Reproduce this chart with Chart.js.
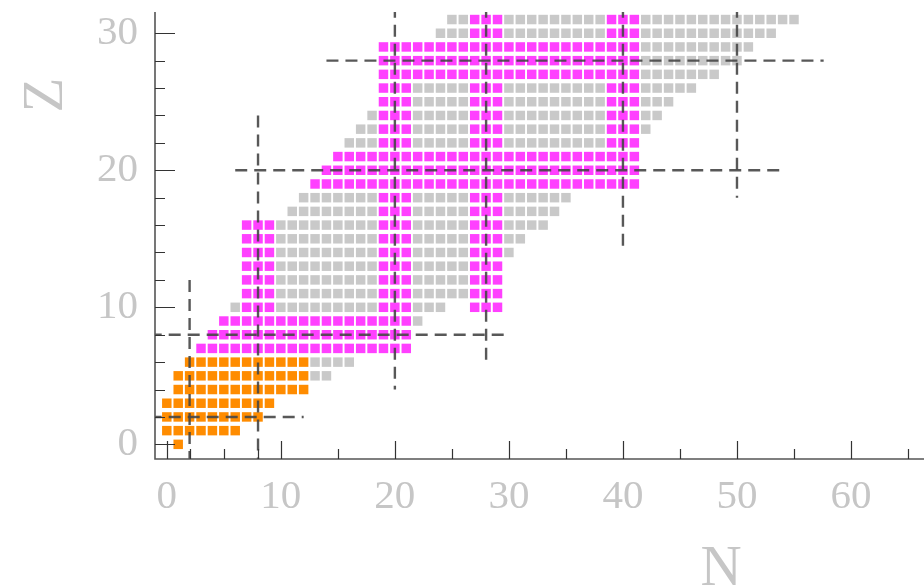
<!DOCTYPE html>
<html>
<head>
<meta charset="utf-8">
<script src="https://cdn.jsdelivr.net/npm/chart.js@4/dist/chart.umd.min.js"></script>
<style>
  html, body { margin: 0; padding: 0; background: #ffffff; }
  #c { display: block; }
</style>
</head>
<body>
<canvas id="c" width="924" height="585" style="width:924px;height:585px"></canvas>
<script>
// ---- Data: runs of nuclides [Z, N from, N to] ----
const orangeRuns = [
  [0, 1, 1], [1, 0, 6], [2, 0, 8], [3, 0, 9], [4, 1, 12], [5, 1, 12], [6, 2, 12]
];
const magentaRuns = [
  [7, 3, 21], [8, 4, 21], [9, 5, 21],
  [10, 7, 9], [10, 19, 21], [10, 27, 29],
  [11, 7, 9], [11, 19, 21], [11, 27, 29],
  [12, 7, 9], [12, 19, 21], [12, 27, 29],
  [13, 7, 9], [13, 19, 21], [13, 27, 29],
  [14, 7, 9], [14, 19, 21], [14, 27, 29],
  [15, 7, 9], [15, 19, 21], [15, 27, 29],
  [16, 7, 9], [16, 19, 21], [16, 27, 29],
  [17, 19, 21], [17, 27, 29],
  [18, 19, 21], [18, 27, 29],
  [19, 13, 41], [20, 14, 41], [21, 15, 41],
  [22, 19, 21], [22, 27, 29], [22, 39, 41],
  [23, 19, 21], [23, 27, 29], [23, 39, 41],
  [24, 19, 21], [24, 27, 29], [24, 39, 41],
  [25, 19, 21], [25, 27, 29], [25, 39, 41],
  [26, 19, 21], [26, 27, 29], [26, 39, 41],
  [27, 19, 41], [28, 19, 41], [29, 19, 41],
  [30, 27, 29], [30, 39, 41],
  [31, 27, 29], [31, 39, 41]
];
const greyRuns = [
  [5, 13, 14], [6, 13, 16], [9, 22, 22],
  [10, 6, 6], [10, 10, 18], [10, 22, 24],
  [11, 10, 18], [11, 22, 26],
  [12, 10, 18], [12, 22, 26],
  [13, 10, 18], [13, 22, 26],
  [14, 10, 18], [14, 22, 26], [14, 30, 30],
  [15, 10, 18], [15, 22, 26], [15, 30, 31],
  [16, 10, 18], [16, 22, 26], [16, 30, 33],
  [17, 11, 18], [17, 22, 26], [17, 30, 34],
  [18, 12, 18], [18, 22, 26], [18, 30, 35],
  [22, 16, 18], [22, 22, 26], [22, 30, 38],
  [23, 17, 18], [23, 22, 26], [23, 30, 38], [23, 42, 42],
  [24, 18, 18], [24, 22, 26], [24, 30, 38], [24, 42, 43],
  [25, 22, 26], [25, 30, 38], [25, 42, 44],
  [26, 22, 26], [26, 30, 38], [26, 42, 46],
  [27, 42, 48], [28, 42, 50], [29, 42, 51],
  [30, 24, 26], [30, 30, 38], [30, 42, 53],
  [31, 25, 26], [31, 30, 38], [31, 42, 55]
];

// Dashed magic-number lines
const vLineN     = [2, 8, 20, 28, 40, 50];
const vLineZFrom = [-1.5, -1.5, 4, 6, 14, 18];
const vLineZTo   = [12, 24, 32, 32, 32, 32];
const hLineZ     = [2, 8, 20, 28];
const hLineNFrom = [-1.5, -1.5, 6, 14];
const hLineNTo   = [12, 30, 54, 57.6];

// Axes
const xLabelTicks = [0, 10, 20, 30, 40, 50, 60];
const yLabelTicks = [0, 10, 20, 30];
const xMarkTicks = [0, 2, 5, 8, 10, 15, 20, 25, 30, 35, 40, 45, 50, 55, 60, 65];
const yMarkTicks = [0, 2, 4, 6, 8, 10, 12, 14, 16, 18, 20, 22, 24, 26, 28, 30];
const xTitle = 'N';
const yTitle = 'Z';

// ---- Build chart data ----
function expand(runs) {
  const pts = [];
  runs.forEach(([z, a, b]) => { for (let n = a; n <= b; n++) pts.push({ x: n, y: z }); });
  return pts;
}
const squareStyle = { type: 'scatter', pointStyle: 'rect', pointRadius: 6.7, pointHoverRadius: 6.7, borderWidth: 0, order: 2 };
const datasets = [
  Object.assign({ label: 'grey', data: expand(greyRuns), backgroundColor: '#c9c9c9' }, squareStyle),
  Object.assign({ label: 'magenta', data: expand(magentaRuns), backgroundColor: '#ff40ff' }, squareStyle),
  Object.assign({ label: 'orange', data: expand(orangeRuns), backgroundColor: '#ff8c00' }, squareStyle)
];
const lineStyle = { type: 'line', showLine: true, pointRadius: 0, borderWidth: 2.4,
  borderColor: 'rgba(70,70,70,0.9)', borderDash: [12, 7], fill: false, order: 0 };
vLineN.forEach((n, i) => datasets.push(Object.assign({ label: 'N=' + n,
  data: [{ x: n, y: vLineZTo[i] }, { x: n, y: vLineZFrom[i] }] }, lineStyle)));
hLineZ.forEach((z, i) => datasets.push(Object.assign({ label: 'Z=' + z,
  data: [{ x: hLineNFrom[i], y: z }, { x: hLineNTo[i], y: z }] }, lineStyle)));

const labelFont = { family: "'Liberation Serif', 'Times New Roman', serif", size: 41 };
const labelColor = '#c6c6c6';

const axisPlugin = {
  id: 'axisPlugin',
  afterDraw(chart) {
    const ctx = chart.ctx, a = chart.chartArea;
    const xs = chart.scales.x, ys = chart.scales.y;
    ctx.save();
    ctx.strokeStyle = '#555';
    ctx.lineWidth = 1.6;
    ctx.beginPath();
    ctx.moveTo(a.left, a.top);
    ctx.lineTo(a.left, a.bottom);
    ctx.lineTo(a.right, a.bottom);
    ctx.stroke();
    ctx.strokeStyle = '#333';
    ctx.lineWidth = 1.2;
    ctx.beginPath();
    xMarkTicks.forEach(v => {
      const px = Math.round(xs.getPixelForValue(v)) + 0.5;
      const len = (v % 10 === 0) ? 18 : 10;
      ctx.moveTo(px, a.bottom);
      ctx.lineTo(px, a.bottom - len);
    });
    yMarkTicks.forEach(v => {
      const py = Math.round(ys.getPixelForValue(v)) + 0.5;
      const len = (v % 10 === 0) ? 20 : 10;
      ctx.moveTo(a.left, py);
      ctx.lineTo(a.left + len, py);
    });
    ctx.stroke();
    ctx.fillStyle = labelColor;
    ctx.font = "57px 'Liberation Serif', 'Times New Roman', serif";
    ctx.textAlign = 'center';
    ctx.textBaseline = 'alphabetic';
    ctx.fillText(xTitle, 721, 585);
    ctx.translate(62, 95);
    ctx.rotate(-Math.PI / 2);
    ctx.fillText(yTitle, 0, 0);
    ctx.restore();
  }
};

function noPad(s) { s.paddingTop = 0; s.paddingBottom = 0; s.paddingLeft = 0; s.paddingRight = 0; }

new Chart(document.getElementById('c').getContext('2d'), {
  type: 'scatter',
  data: { datasets },
  options: {
    responsive: false,
    animation: false,
    devicePixelRatio: 1,
    layout: { autoPadding: false, padding: { top: 12, right: 0, left: 0, bottom: 0 } },
    plugins: { legend: { display: false }, tooltip: { enabled: false } },
    scales: {
      x: {
        type: 'linear', position: 'bottom', min: -1.035, max: 66.4,
        grid: { display: false, drawTicks: false },
        border: { display: false },
        afterFit(s) { s.height = 126; noPad(s); },
        afterBuildTicks(s) { s.ticks = xLabelTicks.map(v => ({ value: v })); },
        ticks: { font: labelFont, color: labelColor, padding: 14, maxRotation: 0, autoSkip: false }
      },
      y: {
        type: 'linear', position: 'left', min: -1.07, max: 31.55,
        grid: { display: false, drawTicks: false },
        border: { display: false },
        afterFit(s) { s.width = 155; noPad(s); },
        afterBuildTicks(s) { s.ticks = yLabelTicks.map(v => ({ value: v })); },
        ticks: { font: labelFont, color: labelColor, padding: 17, autoSkip: false }
      }
    }
  },
  plugins: [axisPlugin]
});
</script>
</body>
</html>
